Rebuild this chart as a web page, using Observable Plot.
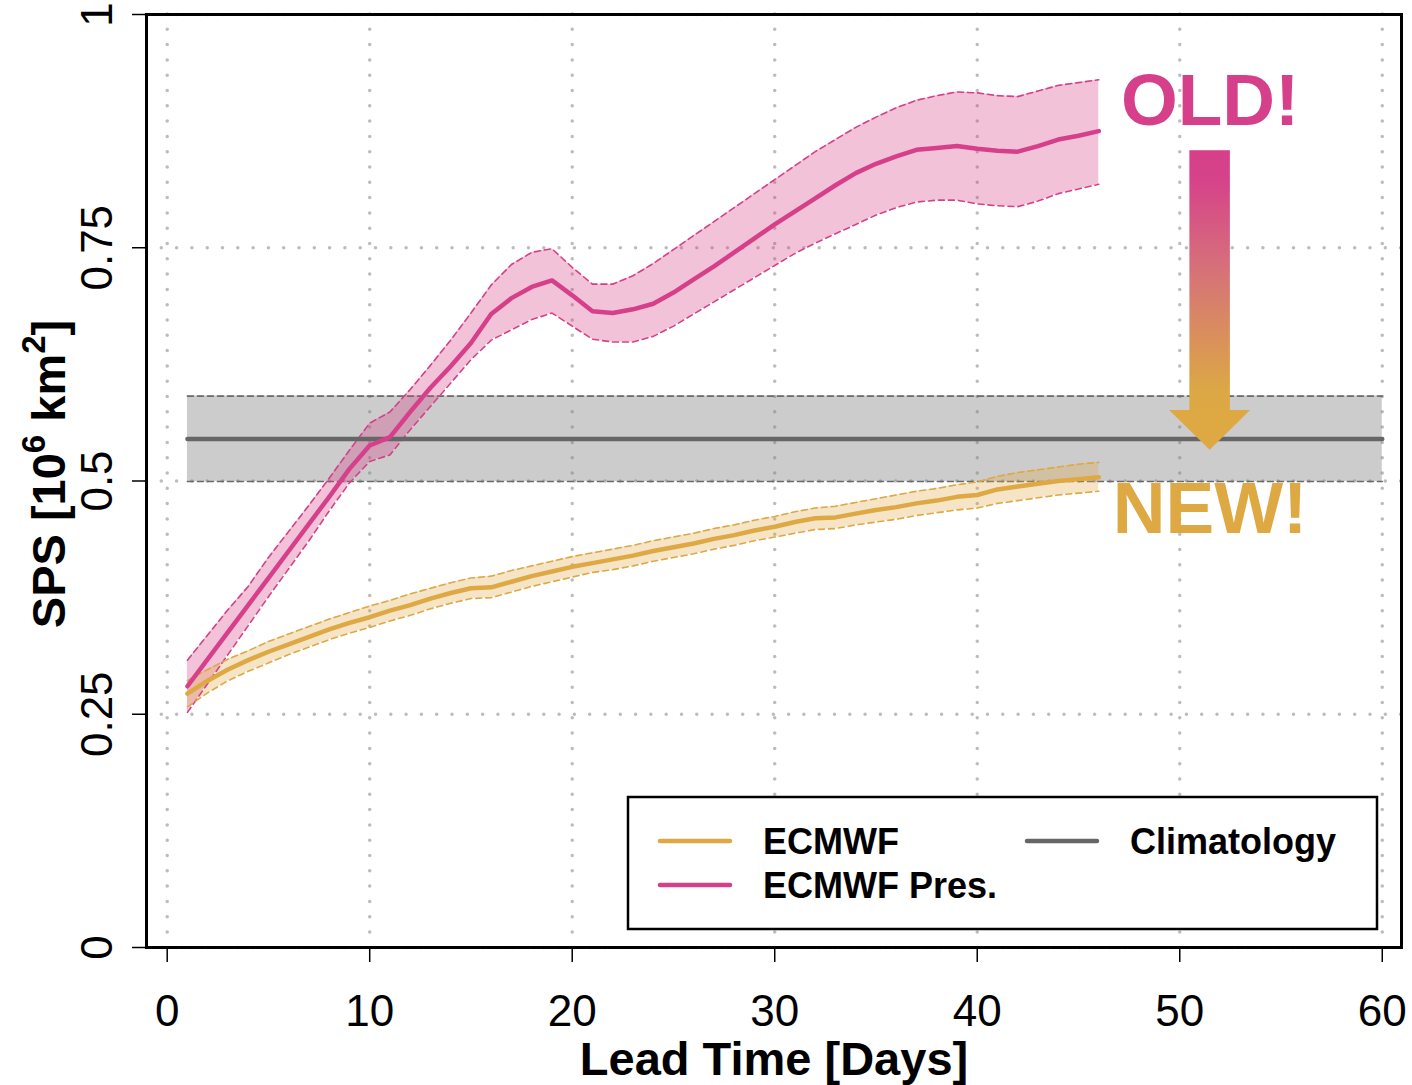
<!DOCTYPE html>
<html><head><meta charset="utf-8">
<script src="https://cdn.jsdelivr.net/npm/d3@7"></script>
<script src="https://cdn.jsdelivr.net/npm/@observablehq/plot@0.6"></script>
<style>
body{margin:0;background:#fff;}
#chart svg{display:block;}
</style></head><body><div id="chart"></div>
<script>
// ---------- data ----------
const days = [1,2,3,4,5,6,7,8,9,10,11,12,13,14,15,16,17,18,19,20,21,22,23,24,25,26,27,28,29,30,31,32,33,34,35,36,37,38,39,40,41,42,43,44,45,46];
const presMean = [.280,.309,.338,.367,.396,.425,.454,.483,.513,.538,.547,.574,.600,.623,.648,.679,.696,.708,.715,.699,.682,.680,.684,.690,.702,.716,.730,.745,.760,.775,.789,.803,.817,.830,.840,.848,.855,.857,.859,.856,.854,.853,.859,.866,.870,.875];
const presHigh = [.308,.335,.362,.387,.418,.446,.474,.503,.533,.562,.574,.598,.624,.651,.680,.710,.732,.745,.749,.729,.711,.711,.720,.733,.748,.763,.778,.793,.808,.823,.838,.853,.866,.879,.890,.900,.908,.913,.917,.916,.913,.912,.918,.924,.927,.930];
const presLow = [.252,.283,.314,.345,.376,.406,.436,.468,.498,.521,.528,.555,.580,.605,.630,.651,.662,.673,.680,.666,.652,.649,.649,.655,.666,.679,.692,.705,.718,.731,.744,.755,.765,.775,.785,.793,.799,.801,.801,.797,.795,.794,.800,.808,.813,.818];
const ecmwfMean = [.272,.286,.298,.308,.317,.325,.333,.341,.348,.354,.361,.367,.374,.380,.385,.386,.392,.398,.403,.408,.412,.416,.420,.425,.429,.433,.438,.442,.447,.451,.456,.460,.461,.465,.469,.472,.476,.479,.483,.485,.491,.494,.497,.500,.502,.504];
const ecmwfHigh = [.286,.298,.309,.318,.328,.336,.344,.352,.359,.366,.372,.379,.385,.391,.396,.398,.404,.409,.414,.419,.423,.427,.431,.436,.440,.444,.449,.453,.458,.462,.467,.471,.473,.477,.481,.485,.489,.492,.496,.499,.505,.509,.512,.515,.518,.520];
const ecmwfLow = [.258,.273,.286,.296,.305,.314,.322,.330,.337,.343,.350,.356,.363,.369,.374,.375,.381,.387,.392,.397,.402,.405,.409,.414,.418,.422,.427,.431,.436,.440,.444,.448,.449,.453,.456,.459,.463,.466,.469,.471,.476,.479,.482,.485,.487,.489];
const climDays = [1, 60];
const climMean = [0.545, 0.545];
const climHigh = [0.591, 0.591];
const climLow = [0.4995, 0.4995];
const xTicks = [0,10,20,30,40,50,60];
const yTicks = [0,0.25,0.5,0.75,1];
const yTickLabels = ["0","0.25","0.5","0.75","1"];
const legendLabels = ["ECMWF","ECMWF Pres.","Climatology"];
// annotation (arrow + OLD!/NEW!)
const annotText = ["OLD!","NEW!"];
const annotDay = [51.5, 51.5];
const annotValue = [0.882, 0.4448];
const arrowShaftDays = [50.5, 52.5];
const arrowShaftValues = [0.5756, 0.854];
const arrowHeadDays = [49.5, 51.5, 53.5];
const arrowHeadTop = [0.5756, 0.533, 0.5756];

// ---------- styling ----------
const PINK = "#D6408A", GOLD = "#DEA843", GRAY = "#666666";
const FONT = "'Liberation Sans', Arial, Helvetica, sans-serif";

const pres = days.map((d,i)=>({day:d, mean:presMean[i], lo:presLow[i], hi:presHigh[i]}));
const ecm = days.map((d,i)=>({day:d, mean:ecmwfMean[i], lo:ecmwfLow[i], hi:ecmwfHigh[i]}));
const clim = climDays.map((d,i)=>({day:d, mean:climMean[i], lo:climLow[i], hi:climHigh[i]}));
const annots = annotText.map((t,i)=>({text:t, day:annotDay[i], v:annotValue[i], color: i===0?PINK:GOLD}));
const shaft = [{x1:arrowShaftDays[0], x2:arrowShaftDays[1], y1:arrowShaftValues[0], y2:arrowShaftValues[1]}];
const head = arrowHeadDays.map((d,i)=>({day:d, base:arrowShaftValues[0], top:arrowHeadTop[i]}));

const gridStyle = {stroke:"#bcbcbc", strokeWidth:3.5, strokeDasharray:"0,15.3", strokeLinecap:"round"};
const dash = "6,4";

const plot = Plot.plot({
  width:1412, height:1085,
  marginLeft:146, marginRight:11, marginTop:14, marginBottom:138,
  style:{fontFamily:FONT, background:"#fff", overflow:"visible", color:"#000"},
  x:{domain:[-1.022, 60.95], axis:null},
  y:{domain:[0,1], axis:null},
  marks:[
    Plot.ruleX(xTicks, gridStyle),
    Plot.ruleY(yTicks, gridStyle),
    // climatology band
    Plot.areaY(clim, {x:"day", y1:"lo", y2:"hi", fill:"#808080", fillOpacity:0.4}),
    Plot.lineY(clim, {x:"day", y:"hi", stroke:"#6a6a6a", strokeWidth:1.6, strokeDasharray:dash}),
    Plot.lineY(clim, {x:"day", y:"lo", stroke:"#6a6a6a", strokeWidth:1.6, strokeDasharray:dash}),
    // bands
    Plot.areaY(pres, {x:"day", y1:"lo", y2:"hi", fill:PINK, fillOpacity:0.32}),
    Plot.areaY(ecm, {x:"day", y1:"lo", y2:"hi", fill:GOLD, fillOpacity:0.3}),
    Plot.lineY(pres, {x:"day", y:"hi", stroke:PINK, strokeWidth:1.6, strokeDasharray:dash}),
    Plot.lineY(pres, {x:"day", y:"lo", stroke:PINK, strokeWidth:1.6, strokeDasharray:dash}),
    Plot.lineY(ecm, {x:"day", y:"hi", stroke:GOLD, strokeWidth:1.6, strokeDasharray:dash}),
    Plot.lineY(ecm, {x:"day", y:"lo", stroke:GOLD, strokeWidth:1.6, strokeDasharray:dash}),
    // mean lines
    Plot.lineY(clim, {x:"day", y:"mean", stroke:GRAY, strokeWidth:4.5}),
    Plot.lineY(pres, {x:"day", y:"mean", stroke:PINK, strokeWidth:4.5}),
    Plot.lineY(ecm, {x:"day", y:"mean", stroke:GOLD, strokeWidth:4.5}),
    // frame + axes
    Plot.frame({stroke:"#000", strokeWidth:3}),
    Plot.axisX({ticks:xTicks, tickSize:15, tickPadding:32, fontSize:44, strokeWidth:1.5, label:null, tickFormat:d=>String(d)}),
    Plot.axisY({ticks:yTicks, tickSize:14, strokeWidth:1.5, label:null, tickFormat:()=>null}),
    Plot.text(yTicks, {y:d=>d, text:(d,i)=>yTickLabels[i], frameAnchor:"left", dx:-34.5, rotate:-90, textAnchor:"middle", lineAnchor:"bottom", fontSize:44, fill:"#000"}),
    Plot.text(["Lead Time [Days]"], {frameAnchor:"bottom", dy:127, lineAnchor:"bottom", fontSize:47, fontWeight:"bold", fill:"#000"}),
    // annotation arrow + text
    Plot.rect(shaft, {x1:"x1", x2:"x2", y1:"y1", y2:"y2", fill:"url(#arrowGrad)"}),
    Plot.areaY(head, {x:"day", y1:"base", y2:"top", fill:GOLD}),
    Plot.text(annots, {x:"day", y:"v", text:"text", fill:d=>d.color, fontSize:73, fontWeight:"bold", textAnchor:"middle", lineAnchor:"bottom"})
  ]
});

const svg = d3.select(plot);
// gradient for arrow shaft
const defs = svg.insert("defs", ":first-child");
const grad = defs.append("linearGradient").attr("id","arrowGrad").attr("x1",0).attr("y1",0).attr("x2",0).attr("y2",1);
[[0,"#D6408A"],[0.12,"#D6438A"],[0.45,"#D6707A"],[0.92,"#DCA746"],[1,"#DEA843"]].forEach(([o,c])=>grad.append("stop").attr("offset",o).attr("stop-color",c));

// y-axis title with superscripts
const yt = svg.append("text")
  .attr("transform","translate(65,474) rotate(-90)")
  .attr("text-anchor","middle")
  .attr("font-family",FONT).attr("font-weight","bold").attr("font-size",47).attr("fill","#000");
yt.append("tspan").text("SPS [10");
yt.append("tspan").attr("font-size",33).attr("dy",-20).text("6");
yt.append("tspan").attr("dy",20).text(" km");
yt.append("tspan").attr("font-size",33).attr("dy",-20).text("2");
yt.append("tspan").attr("dy",20).text("]");

// legend
const lg = svg.append("g").attr("font-family",FONT).attr("font-weight","bold").attr("font-size",36).attr("fill","#000").attr("text-anchor","start");
lg.append("rect").attr("x",628).attr("y",797).attr("width",749).attr("height",132).attr("fill","#fff").attr("stroke","#000").attr("stroke-width",2.5);
const legendColors = [GOLD, PINK, GRAY];
const legendPos = [[660,841],[660,885],[1027,841]];
legendLabels.forEach((lab,i)=>{
  const [lx,ly] = legendPos[i];
  lg.append("line").attr("x1",lx).attr("x2",lx+70).attr("y1",ly).attr("y2",ly).attr("stroke",legendColors[i]).attr("stroke-width",4.5).attr("stroke-linecap","round");
  lg.append("text").attr("x",lx+103).attr("y",ly+13).attr("text-anchor","start").text(lab);
});

document.getElementById("chart").appendChild(plot);
</script></body></html>
